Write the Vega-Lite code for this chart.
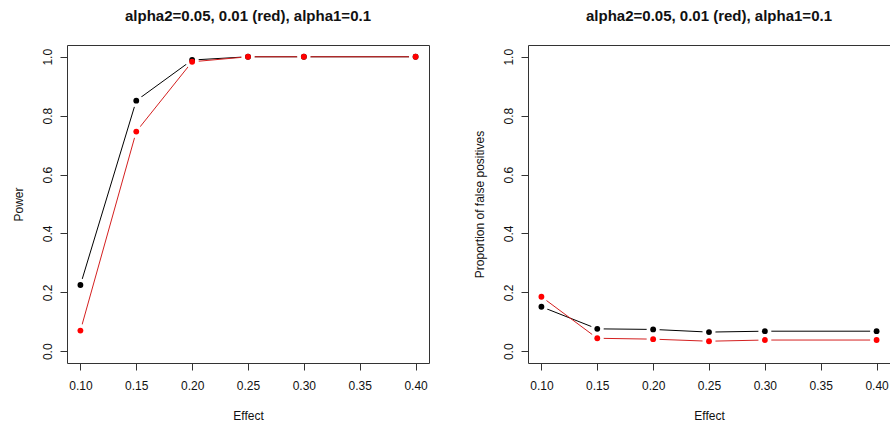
{
  "$schema": "https://vega.github.io/schema/vega-lite/v6.json",
  "padding": {"left": 11, "top": 8, "right": 0, "bottom": 0},
  "autosize": {"type": "pad"},
  "background": "white",
  "config": {
    "font": "Liberation Sans",
    "view": {"stroke": "#333", "strokeWidth": 1},
    "concat": {"spacing": 99},
    "axis": {
      "domain": false, "grid": false, "ticks": true, "tickColor": "#333", "tickSize": 7,
      "labelFont": "Liberation Sans", "labelFontSize": 12, "labelColor": "#111",
      "titleFont": "Liberation Sans", "titleFontSize": 12, "titleFontWeight": "normal", "titleColor": "#111"
    },
    "title": {"font": "Liberation Sans", "fontSize": 15, "fontWeight": "bold", "anchor": "middle", "offset": 21, "color": "#111"}
  },
  "bounds": "flush",
  "data": {"values": [
    {"panel": "power", "series": "a", "effect": 0.10, "value": 0.225},
    {"panel": "power", "series": "a", "effect": 0.15, "value": 0.851},
    {"panel": "power", "series": "a", "effect": 0.20, "value": 0.989},
    {"panel": "power", "series": "a", "effect": 0.25, "value": 1.0},
    {"panel": "power", "series": "a", "effect": 0.30, "value": 1.0},
    {"panel": "power", "series": "a", "effect": 0.40, "value": 1.0},
    {"panel": "power", "series": "b", "effect": 0.10, "value": 0.070},
    {"panel": "power", "series": "b", "effect": 0.15, "value": 0.746},
    {"panel": "power", "series": "b", "effect": 0.20, "value": 0.983},
    {"panel": "power", "series": "b", "effect": 0.25, "value": 1.0},
    {"panel": "power", "series": "b", "effect": 0.30, "value": 1.0},
    {"panel": "power", "series": "b", "effect": 0.40, "value": 1.0},
    {"panel": "fp", "series": "a", "effect": 0.10, "value": 0.151},
    {"panel": "fp", "series": "a", "effect": 0.15, "value": 0.076},
    {"panel": "fp", "series": "a", "effect": 0.20, "value": 0.074},
    {"panel": "fp", "series": "a", "effect": 0.25, "value": 0.065},
    {"panel": "fp", "series": "a", "effect": 0.30, "value": 0.068},
    {"panel": "fp", "series": "a", "effect": 0.40, "value": 0.068},
    {"panel": "fp", "series": "b", "effect": 0.10, "value": 0.185},
    {"panel": "fp", "series": "b", "effect": 0.15, "value": 0.044},
    {"panel": "fp", "series": "b", "effect": 0.20, "value": 0.041},
    {"panel": "fp", "series": "b", "effect": 0.25, "value": 0.034},
    {"panel": "fp", "series": "b", "effect": 0.30, "value": 0.038},
    {"panel": "fp", "series": "b", "effect": 0.40, "value": 0.038}
  ]},
  "hconcat": [
    {
      "width": 362, "height": 318,
      "title": "alpha2=0.05, 0.01 (red), alpha1=0.1",
      "transform": [{"filter": "datum.panel == 'power'"}],
      "encoding": {
        "x": {"field": "effect", "type": "quantitative",
          "scale": {"domain": [0.088, 0.412], "nice": false, "zero": false},
          "axis": {"values": [0.1, 0.15, 0.2, 0.25, 0.3, 0.35, 0.4], "format": ".2f", "title": "Effect", "labelPadding": 10, "titlePadding": 19}},
        "y": {"field": "value", "type": "quantitative",
          "scale": {"domain": [-0.04, 1.04], "nice": false, "zero": false},
          "axis": {"values": [0, 0.2, 0.4, 0.6, 0.8, 1.0], "format": ".1f", "title": "Power", "labelAngle": -90, "labelAlign": "center", "labelBaseline": "bottom", "labelPadding": 6, "titlePadding": 16}}
      },
      "layer": [
        {"mark": {"type": "line", "strokeWidth": 1},
         "encoding": {"color": {"field": "series", "type": "nominal", "scale": {"domain": ["a", "b"], "range": ["#000000", "#d42020"]}, "legend": null}}},
        {"mark": {"type": "point", "filled": true, "color": "white", "size": 170, "opacity": 1}},
        {"mark": {"type": "point", "filled": true, "size": 34, "opacity": 1},
         "encoding": {"color": {"field": "series", "type": "nominal", "scale": {"domain": ["a", "b"], "range": ["#000000", "#ff0000"]}, "legend": null}}}
      ],
      "resolve": {"scale": {"color": "independent"}}
    },
    {
      "width": 362, "height": 318,
      "title": "alpha2=0.05, 0.01 (red), alpha1=0.1",
      "transform": [{"filter": "datum.panel == 'fp'"}],
      "encoding": {
        "x": {"field": "effect", "type": "quantitative",
          "scale": {"domain": [0.088, 0.412], "nice": false, "zero": false},
          "axis": {"values": [0.1, 0.15, 0.2, 0.25, 0.3, 0.35, 0.4], "format": ".2f", "title": "Effect", "labelPadding": 10, "titlePadding": 19}},
        "y": {"field": "value", "type": "quantitative",
          "scale": {"domain": [-0.04, 1.04], "nice": false, "zero": false},
          "axis": {"values": [0, 0.2, 0.4, 0.6, 0.8, 1.0], "format": ".1f", "title": "Proportion of false positives", "labelAngle": -90, "labelAlign": "center", "labelBaseline": "bottom", "labelPadding": 6, "titlePadding": 16}}
      },
      "layer": [
        {"mark": {"type": "line", "strokeWidth": 1},
         "encoding": {"color": {"field": "series", "type": "nominal", "scale": {"domain": ["a", "b"], "range": ["#000000", "#d42020"]}, "legend": null}}},
        {"mark": {"type": "point", "filled": true, "color": "white", "size": 170, "opacity": 1}},
        {"mark": {"type": "point", "filled": true, "size": 34, "opacity": 1},
         "encoding": {"color": {"field": "series", "type": "nominal", "scale": {"domain": ["a", "b"], "range": ["#000000", "#ff0000"]}, "legend": null}}}
      ],
      "resolve": {"scale": {"color": "independent"}}
    }
  ]
}
